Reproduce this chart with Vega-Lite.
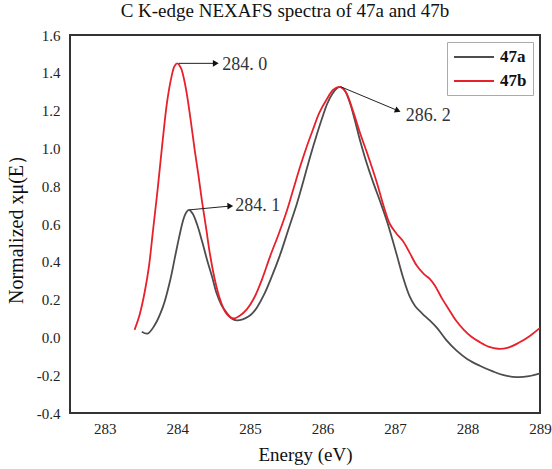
{
  "$schema": "https://vega.github.io/schema/vega-lite/v6.json",
  "autosize": "none",
  "width": 470,
  "height": 378,
  "padding": {"left": 70, "top": 35, "right": 12, "bottom": 56},
  "background": "white",
  "config": {
    "view": {"stroke": "#333", "strokeWidth": 2},
    "font": "Liberation Serif",
    "axis": {"labelOverlap": false}
  },
  "title": {
    "text": "C K-edge NEXAFS spectra of 47a and 47b",
    "font": "Liberation Serif",
    "fontSize": 19,
    "fontWeight": "normal",
    "color": "#111",
    "anchor": "middle",
    "dx": -20,
    "offset": 7
  },
  "datasets": {
    "spectra": [
      {"s": "47a", "e": 283.51, "v": 0.03},
      {"s": "47a", "e": 283.59, "v": 0.02},
      {"s": "47a", "e": 283.68, "v": 0.06},
      {"s": "47a", "e": 283.80, "v": 0.16},
      {"s": "47a", "e": 283.90, "v": 0.30},
      {"s": "47a", "e": 283.97, "v": 0.43},
      {"s": "47a", "e": 284.03, "v": 0.54},
      {"s": "47a", "e": 284.08, "v": 0.62},
      {"s": "47a", "e": 284.12, "v": 0.66},
      {"s": "47a", "e": 284.16, "v": 0.675},
      {"s": "47a", "e": 284.21, "v": 0.655},
      {"s": "47a", "e": 284.27, "v": 0.60},
      {"s": "47a", "e": 284.34, "v": 0.51},
      {"s": "47a", "e": 284.41, "v": 0.41},
      {"s": "47a", "e": 284.48, "v": 0.32},
      {"s": "47a", "e": 284.54, "v": 0.235},
      {"s": "47a", "e": 284.61, "v": 0.17},
      {"s": "47a", "e": 284.68, "v": 0.13},
      {"s": "47a", "e": 284.75, "v": 0.10},
      {"s": "47a", "e": 284.82, "v": 0.09},
      {"s": "47a", "e": 284.90, "v": 0.095},
      {"s": "47a", "e": 284.98, "v": 0.11},
      {"s": "47a", "e": 285.04, "v": 0.13},
      {"s": "47a", "e": 285.10, "v": 0.16},
      {"s": "47a", "e": 285.20, "v": 0.23},
      {"s": "47a", "e": 285.30, "v": 0.32},
      {"s": "47a", "e": 285.41, "v": 0.43},
      {"s": "47a", "e": 285.53, "v": 0.57},
      {"s": "47a", "e": 285.65, "v": 0.71},
      {"s": "47a", "e": 285.74, "v": 0.83},
      {"s": "47a", "e": 285.83, "v": 0.955},
      {"s": "47a", "e": 285.92, "v": 1.07},
      {"s": "47a", "e": 286.00, "v": 1.165},
      {"s": "47a", "e": 286.07, "v": 1.24},
      {"s": "47a", "e": 286.14, "v": 1.29},
      {"s": "47a", "e": 286.20, "v": 1.318},
      {"s": "47a", "e": 286.25, "v": 1.325},
      {"s": "47a", "e": 286.31, "v": 1.305},
      {"s": "47a", "e": 286.38, "v": 1.24},
      {"s": "47a", "e": 286.45, "v": 1.145},
      {"s": "47a", "e": 286.52, "v": 1.04},
      {"s": "47a", "e": 286.60, "v": 0.935},
      {"s": "47a", "e": 286.70, "v": 0.82},
      {"s": "47a", "e": 286.80, "v": 0.715},
      {"s": "47a", "e": 286.89, "v": 0.615},
      {"s": "47a", "e": 286.96, "v": 0.525},
      {"s": "47a", "e": 287.03, "v": 0.43},
      {"s": "47a", "e": 287.11, "v": 0.32},
      {"s": "47a", "e": 287.20, "v": 0.22},
      {"s": "47a", "e": 287.28, "v": 0.165},
      {"s": "47a", "e": 287.38, "v": 0.125},
      {"s": "47a", "e": 287.48, "v": 0.09},
      {"s": "47a", "e": 287.58, "v": 0.05},
      {"s": "47a", "e": 287.70, "v": -0.01},
      {"s": "47a", "e": 287.85, "v": -0.07},
      {"s": "47a", "e": 288.00, "v": -0.115},
      {"s": "47a", "e": 288.17, "v": -0.15},
      {"s": "47a", "e": 288.35, "v": -0.18},
      {"s": "47a", "e": 288.50, "v": -0.20},
      {"s": "47a", "e": 288.68, "v": -0.21},
      {"s": "47a", "e": 288.85, "v": -0.205},
      {"s": "47a", "e": 289.00, "v": -0.19},
      {"s": "47b", "e": 283.41, "v": 0.04},
      {"s": "47b", "e": 283.48, "v": 0.12},
      {"s": "47b", "e": 283.55, "v": 0.24},
      {"s": "47b", "e": 283.61, "v": 0.38},
      {"s": "47b", "e": 283.66, "v": 0.55},
      {"s": "47b", "e": 283.73, "v": 0.79},
      {"s": "47b", "e": 283.80, "v": 1.05},
      {"s": "47b", "e": 283.86, "v": 1.25},
      {"s": "47b", "e": 283.92, "v": 1.38},
      {"s": "47b", "e": 283.96, "v": 1.435},
      {"s": "47b", "e": 284.00, "v": 1.45},
      {"s": "47b", "e": 284.05, "v": 1.425},
      {"s": "47b", "e": 284.09, "v": 1.37},
      {"s": "47b", "e": 284.13, "v": 1.29},
      {"s": "47b", "e": 284.18, "v": 1.16},
      {"s": "47b", "e": 284.24, "v": 0.99},
      {"s": "47b", "e": 284.29, "v": 0.86},
      {"s": "47b", "e": 284.34, "v": 0.72},
      {"s": "47b", "e": 284.40, "v": 0.57},
      {"s": "47b", "e": 284.45, "v": 0.44},
      {"s": "47b", "e": 284.52, "v": 0.30},
      {"s": "47b", "e": 284.59, "v": 0.20},
      {"s": "47b", "e": 284.67, "v": 0.13},
      {"s": "47b", "e": 284.77, "v": 0.10},
      {"s": "47b", "e": 284.86, "v": 0.115},
      {"s": "47b", "e": 284.96, "v": 0.15},
      {"s": "47b", "e": 285.06, "v": 0.21},
      {"s": "47b", "e": 285.17, "v": 0.31},
      {"s": "47b", "e": 285.28, "v": 0.43},
      {"s": "47b", "e": 285.40, "v": 0.55},
      {"s": "47b", "e": 285.51, "v": 0.67},
      {"s": "47b", "e": 285.60, "v": 0.785},
      {"s": "47b", "e": 285.69, "v": 0.90},
      {"s": "47b", "e": 285.78, "v": 1.005},
      {"s": "47b", "e": 285.87, "v": 1.10},
      {"s": "47b", "e": 285.96, "v": 1.19},
      {"s": "47b", "e": 286.06, "v": 1.26},
      {"s": "47b", "e": 286.15, "v": 1.31},
      {"s": "47b", "e": 286.24, "v": 1.325},
      {"s": "47b", "e": 286.32, "v": 1.30},
      {"s": "47b", "e": 286.42, "v": 1.20},
      {"s": "47b", "e": 286.52, "v": 1.08},
      {"s": "47b", "e": 286.63, "v": 0.96},
      {"s": "47b", "e": 286.75, "v": 0.82},
      {"s": "47b", "e": 286.84, "v": 0.70},
      {"s": "47b", "e": 286.93, "v": 0.60},
      {"s": "47b", "e": 287.02, "v": 0.55},
      {"s": "47b", "e": 287.11, "v": 0.51},
      {"s": "47b", "e": 287.20, "v": 0.45},
      {"s": "47b", "e": 287.30, "v": 0.38},
      {"s": "47b", "e": 287.40, "v": 0.335},
      {"s": "47b", "e": 287.48, "v": 0.31},
      {"s": "47b", "e": 287.55, "v": 0.275},
      {"s": "47b", "e": 287.65, "v": 0.205},
      {"s": "47b", "e": 287.74, "v": 0.15},
      {"s": "47b", "e": 287.85, "v": 0.085},
      {"s": "47b", "e": 287.95, "v": 0.04},
      {"s": "47b", "e": 288.05, "v": 0.005},
      {"s": "47b", "e": 288.17, "v": -0.025},
      {"s": "47b", "e": 288.30, "v": -0.05},
      {"s": "47b", "e": 288.42, "v": -0.06},
      {"s": "47b", "e": 288.55, "v": -0.055},
      {"s": "47b", "e": 288.70, "v": -0.03},
      {"s": "47b", "e": 288.85, "v": 0.005},
      {"s": "47b", "e": 289.00, "v": 0.05}
    ],
    "notes": [
      {"x": 284.02, "y": 1.45, "x2": 284.53, "y2": 1.45, "tx": 284.62, "ty": 1.44, "angle": 0, "label": "284. 0"},
      {"x": 284.17, "y": 0.675, "x2": 284.73, "y2": 0.695, "tx": 284.80, "ty": 0.695, "angle": -2, "label": "284. 1"},
      {"x": 286.26, "y": 1.325, "x2": 287.04, "y2": 1.20, "tx": 287.15, "ty": 1.17, "angle": 22, "label": "286. 2"}
    ]
  },
  "layer": [
    {
      "data": {"name": "spectra"},
      "mark": {"type": "line", "strokeWidth": 1.8, "interpolate": "catmull-rom", "clip": true},
      "encoding": {
        "x": {
          "field": "e", "type": "quantitative",
          "scale": {"domain": [282.52, 289], "nice": false, "zero": false},
          "axis": {
            "title": "Energy (eV)",
            "values": [283, 284, 285, 286, 287, 288, 289],
            "tickCount": 20,
            "format": "d",
            "grid": false, "ticks": false, "domain": false,
            "labelFlush": false, "labelOverlap": false,
            "labelFont": "Liberation Serif", "labelFontSize": 15, "labelColor": "#222", "labelPadding": 8,
            "titleFont": "Liberation Serif", "titleFontSize": 19, "titleFontWeight": "normal", "titleColor": "#111", "titlePadding": 9
          }
        },
        "y": {
          "field": "v", "type": "quantitative",
          "scale": {"domain": [-0.4, 1.6], "nice": false, "zero": false},
          "axis": {
            "title": "Normalized xμ(E）",
            "values": [-0.4, -0.2, 0, 0.2, 0.4, 0.6, 0.8, 1, 1.2, 1.4, 1.6],
            "tickCount": 30,
            "labelExpr": "datum.value < 0 ? '-' + format(-datum.value, '.1f') : format(datum.value, '.1f')",
            "grid": false, "ticks": false, "domain": false,
            "labelFlush": false, "labelOverlap": false,
            "labelFont": "Liberation Serif", "labelFontSize": 15, "labelColor": "#222", "labelPadding": 10,
            "titleFont": "Liberation Serif", "titleFontSize": 20, "titleFontWeight": "normal", "titleColor": "#111", "titlePadding": 10
          }
        },
        "color": {
          "field": "s", "type": "nominal",
          "scale": {"domain": ["47a", "47b"], "range": ["#4d4d4d", "#e8202a"]},
          "legend": {
            "title": null,
            "orient": "top-right",
            "offset": 7,
            "padding": 6,
            "strokeColor": "#aaa",
            "fillColor": "white",
            "symbolType": "M-1,0H4",
            "symbolSize": 256,
            "symbolStrokeWidth": 2,
            "labelFont": "Liberation Serif",
            "labelFontSize": 17,
            "labelFontWeight": "bold",
            "labelColor": "#111",
            "rowPadding": 7,
            "labelOffset": 29
          }
        }
      }
    },
    {
      "data": {"name": "notes"},
      "mark": {"type": "rule", "color": "#222", "strokeWidth": 1},
      "encoding": {
        "x": {"field": "x", "type": "quantitative"},
        "y": {"field": "y", "type": "quantitative"},
        "x2": {"field": "x2"},
        "y2": {"field": "y2"}
      }
    },
    {
      "data": {"name": "notes"},
      "mark": {"type": "point", "shape": "triangle-right", "filled": true, "color": "#111", "size": 45, "opacity": 1},
      "encoding": {
        "x": {"field": "x2", "type": "quantitative"},
        "y": {"field": "y2", "type": "quantitative"},
        "angle": {"field": "angle", "type": "quantitative", "scale": null}
      }
    },
    {
      "data": {"name": "notes"},
      "mark": {"type": "text", "align": "left", "baseline": "middle", "font": "Liberation Serif", "fontSize": 18, "color": "#333"},
      "encoding": {
        "x": {"field": "tx", "type": "quantitative"},
        "y": {"field": "ty", "type": "quantitative"},
        "text": {"field": "label"}
      }
    }
  ]
}
